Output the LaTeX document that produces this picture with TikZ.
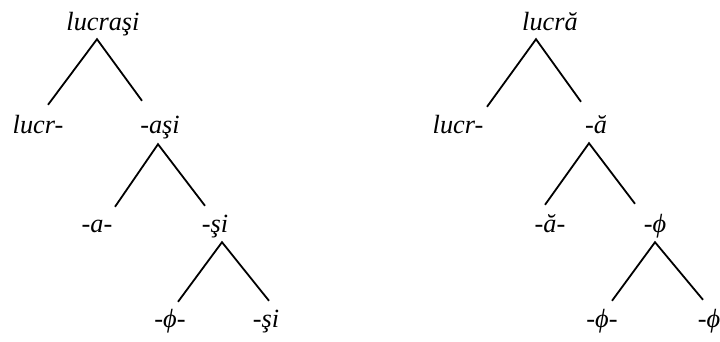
\documentclass[tikz,border=0pt]{standalone}
\usepackage{fontspec}
\setmainfont{Liberation Serif}[ItalicFont={Liberation Serif Italic}]
\usetikzlibrary{positioning}

\begin{document}
\begin{tikzpicture}[
  x=1pt, y=-1pt,
  % one node per morpheme, baseline at the given point
  morph/.style  = {font=\fontsize{26.3}{30}\selectfont\itshape,
                   inner sep=2pt, text height=18pt, text depth=6pt,
                   anchor=base},
  branch/.style = {line width=1.8pt},
]
\useasboundingbox (0,0) rectangle (720,342);

% left tree: lucrasi
\node[morph] (lucrasi) at (103,31)  {lucraşi};
\node[morph] (lucrL)   at (38,134)  {lucr-};
\node[morph] (asi)     at (160,134) {-aşi};
\node[morph] (aL)      at (97,232)  {-a-};
\node[morph] (siL)     at (215,232) {-şi};
\node[morph] (phiL)    at (170,327) {-ϕ-};
\node[morph] (siR)     at (266,327) {-şi};

% right tree: lucra
\node[morph] (lucra)   at (550,31)  {lucră};
\node[morph] (lucrR)   at (458,134) {lucr-};
\node[morph] (abrev)   at (596,134) {-ă};
\node[morph] (abrevL)  at (550,232) {-ă-};
\node[morph] (phiA)    at (655,232) {-ϕ};
\node[morph] (phiB)    at (602,327) {-ϕ-};
\node[morph] (phiC)    at (709,327) {-ϕ};

% branches
\draw[branch] ([xshift=10pt, yshift=9pt]lucrL.north)
  -- ([xshift=-6pt]lucrasi.south)
  -- ([xshift=-18pt, yshift=13pt]asi.north);
\draw[branch] ([xshift=18pt, yshift=5pt]aL.north)
  -- ([xshift=-2pt, yshift=-2pt]asi.south)
  -- ([xshift=-10pt, yshift=6pt]siL.north);
\draw[branch] ([xshift=8pt, yshift=5pt]phiL.north)
  -- ([xshift=7pt, yshift=-2pt]siL.south)
  -- ([xshift=3pt, yshift=6pt]siR.north);

\draw[branch] ([xshift=29pt, yshift=7pt]lucrR.north)
  -- ([xshift=-14pt]lucra.south)
  -- ([xshift=-15pt, yshift=12pt]abrev.north);
\draw[branch] ([xshift=-5pt, yshift=7pt]abrevL.north)
  -- ([xshift=-7pt, yshift=-1pt]abrev.south)
  -- ([xshift=-20pt, yshift=8pt]phiA.north);
\draw[branch] ([xshift=10pt, yshift=6pt]phiB.north)
  -- ([yshift=-2pt]phiA.south)
  -- ([xshift=-6pt, yshift=7pt]phiC.north);

\end{tikzpicture}
\end{document}
